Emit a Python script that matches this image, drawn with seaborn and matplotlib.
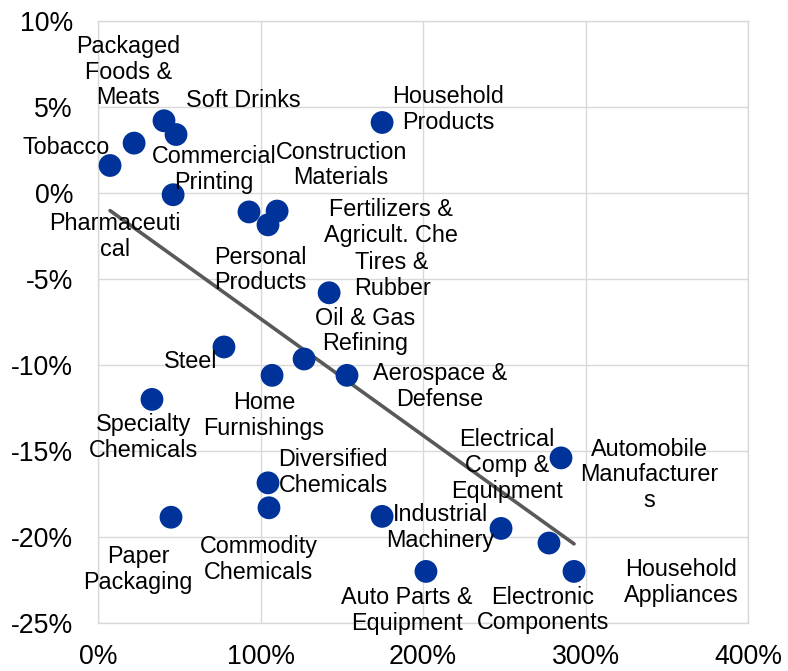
import numpy as np
import pandas as pd
import matplotlib
matplotlib.use("Agg")
import matplotlib.pyplot as plt
from matplotlib.ticker import FuncFormatter, MultipleLocator
import seaborn as sns

# Industry data: x = change in input cost (%), y = change in margin (%)
industries = [
    "Tobacco", "Packaged\nFoods &\nMeats", "Soft Drinks", "Commercial\nPrinting",
    "Pharmaceuti\ncal", "Construction\nMaterials", "Personal\nProducts",
    "Fertilizers &\nAgricult. Che", "Household\nProducts", "Tires &\nRubber",
    "Oil & Gas\nRefining", "Aerospace &\nDefense", "Steel", "Home\nFurnishings",
    "Specialty\nChemicals", "Diversified\nChemicals", "Commodity\nChemicals",
    "Paper\nPackaging", "Industrial\nMachinery", "Auto Parts &\nEquipment",
    "Electrical\nComp &\nEquipment", "Electronic\nComponents",
    "Automobile\nManufacturer\ns", "Household\nAppliances",
]
x_values = [
    7.4, 22.2, 40.6, 48.0, 46.2, 110.2, 92.9, 104.6, 174.8, 142.2,
    126.8, 153.2, 77.5, 107.1, 33.2, 104.6, 105.2, 44.9, 174.8, 201.8,
    248.0, 277.5, 284.9, 292.9,
]
y_values = [
    1.6, 2.9, 4.2, 3.4, -0.1, -1.05, -1.1, -1.85, 4.1, -5.8,
    -9.65, -10.6, -8.95, -10.6, -12.0, -16.85, -18.3, -18.85, -18.8, -22.0,
    -19.5, -20.35, -15.4, -22.0,
]

# Label placement relative to each marker (pixels, y up)
label_offsets = [
    (-44, 18), (-6, 71), (79, 20), (38, -35), (-58, -42), (64, 46), (11, -58),
    (123, 2), (66, 13), (63, 17), (61, 28), (93, -11), (-33, -15), (-8, -40),
    (-8, -38), (65, 10), (-10, -52), (-33, -52), (58, -11), (-19, -39),
    (6, 63), (-6, -67), (88, -17), (107, -11),
]

df = pd.DataFrame({"industry": industries, "x": x_values, "y": y_values})

sns.set_style("white")
plt.rcParams["font.family"] = ["Liberation Sans", "DejaVu Sans"]

fig = plt.figure(figsize=(7.88, 6.71), dpi=100)
ax = fig.add_axes([0.1244, 0.0715, 0.8249, 0.8972])

grid_color = "#D9D9D9"
ax.set_axisbelow(True)
ax.grid(True, color=grid_color, linewidth=1.0)

# Linear trend across the range of observed inputs
slope, intercept = np.polyfit(df["x"], df["y"], 1)
trend = pd.DataFrame({"x": [df["x"].min(), df["x"].max()]})
trend["y"] = slope * trend["x"] + intercept
sns.lineplot(data=trend, x="x", y="y", ax=ax, color="#595959", linewidth=2.6,
             zorder=2)

sns.scatterplot(data=df, x="x", y="y", ax=ax, s=270, color="#003399",
                edgecolor="none", linewidth=0, zorder=3)

for name, px, py, (dx, dy) in zip(industries, x_values, y_values, label_offsets):
    ax.annotate(name, xy=(px, py), xytext=(dx, dy), textcoords="offset pixels",
                ha="center", va="center", fontsize=16.8, color="#000000",
                linespacing=1.15, zorder=4)

ax.set_xlim(0, 400)
ax.set_ylim(-25, 10)
ax.xaxis.set_major_locator(MultipleLocator(100))
ax.yaxis.set_major_locator(MultipleLocator(5))
ax.xaxis.set_major_formatter(FuncFormatter(lambda v, _: f"{v:.0f}%"))
ax.yaxis.set_major_formatter(FuncFormatter(lambda v, _: f"{v:.0f}%"))
ax.tick_params(axis="both", length=0, labelsize=19.2, colors="#000000")
ax.tick_params(axis="y", pad=18)
ax.tick_params(axis="x", pad=15)
ax.set_xlabel("")
ax.set_ylabel("")
for spine in ax.spines.values():
    spine.set_color(grid_color)
    spine.set_linewidth(1.0)

fig.savefig("out.png", dpi=100, facecolor="white")
